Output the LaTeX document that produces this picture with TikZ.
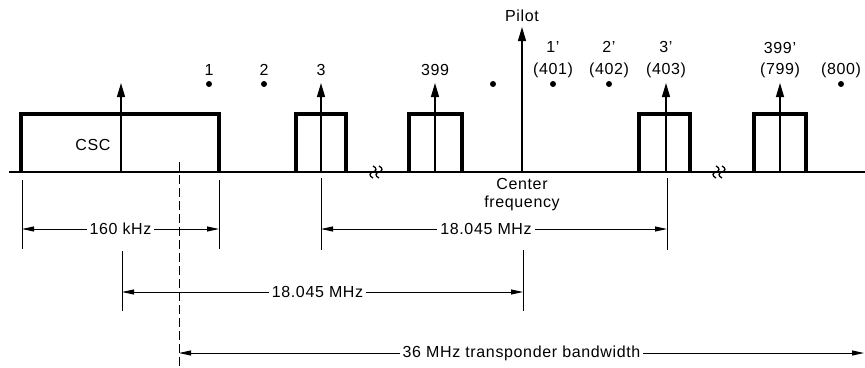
\documentclass[tikz,border=0pt]{standalone}
\usepackage{fontspec}
\setmainfont{Liberation Sans}[LetterSpace=4]
\usetikzlibrary{arrows.meta}
\begin{document}
\begin{tikzpicture}[x=1pt,y=-1pt,
  lbl/.style={font=\fontsize{16}{18}\selectfont, inner sep=0pt, anchor=center},
  sigbox/.style={line width=3.4pt, line join=miter},
  baseln/.style={line width=1.6pt},
  carrier/.style={line width=1.3pt, -{Triangle[length=14pt,width=8pt]}},
  extl/.style={line width=0.9pt},
  dimln/.style={line width=0.9pt, {Triangle[length=12pt,width=5pt]}-{Triangle[length=12pt,width=5pt]}},
  dimlbl/.style={lbl, fill=white, inner xsep=3pt, inner ysep=1pt},
  dot/.style={circle, fill=black, inner sep=0pt, minimum size=6pt}]
\useasboundingbox (0,0) rectangle (865,367);
% baseline
\coordinate (bl) at (9,172);
\coordinate (br) at (865,172);
\draw[baseln] (bl) -- (br);
% CSC box
\coordinate (c1) at (21,172); \coordinate (c2) at (21,114);
\coordinate (c3) at (219,114); \coordinate (c4) at (219,172);
\draw[sigbox] (c1) -- (c2) -- (c3) -- (c4);
\node[lbl] (csc) at (93,145) {CSC};
% signal boxes
\foreach \l/\r/\n in {296/346/b3, 409/462/b399, 639/690/b3p, 754/806/b399p}{
  \coordinate (\n a) at (\l,172); \coordinate (\n b) at (\l,114);
  \coordinate (\n c) at (\r,114); \coordinate (\n d) at (\r,172);
  \draw[sigbox] (\n a) -- (\n b) -- (\n c) -- (\n d);
}
% carriers
\foreach \x/\n in {121/k1, 321/k3, 435/k399, 666/k3p, 780/k399p}{
  \coordinate (\n s) at (\x,172); \coordinate (\n e) at (\x,83);
  \draw[carrier] (\n s) -- (\n e);
}
\coordinate (pils) at (522,172); \coordinate (pile) at (522,27);
\draw[carrier] (pils) -- (pile);
% break marks
\foreach \x in {373,379,716,722}{
  \draw[line width=1.3pt] (\x,166) .. controls (\x+4,168) and (\x+4,171) .. (\x,172)
    .. controls (\x-4,173) and (\x-4,176) .. (\x,178);
}
% labels
\node[lbl] (pilot) at (522,16) {Pilot};
\node[lbl] (n1) at (209,70) {1};
\node[lbl] (n2) at (264,70) {2};
\node[lbl] (n3) at (321,70) {3};
\node[lbl] (n399) at (435,70) {399};
\node[lbl] (p1) at (553,47) {1’};
\node[lbl] (q1) at (553,70) {(401)};
\node[lbl] (p2) at (609,47) {2’};
\node[lbl] (q2) at (609,70) {(402)};
\node[lbl] (p3) at (666,47) {3’};
\node[lbl] (q3) at (666,70) {(403)};
\node[lbl] (p399) at (780,48) {399’};
\node[lbl] (q399) at (780,70) {(799)};
\node[lbl] (q800) at (841,70) {(800)};
\foreach \x/\n in {209/d1, 264/d2, 493/d3, 553/d4, 609/d5, 841/d6}{
  \node[dot] (\n) at (\x,84) {};
}
\node[lbl] (cen) at (522,184) {Center};
\node[lbl] (freq) at (522,203) {frequency};
% dashed line
\coordinate (dsh1) at (179,162); \coordinate (dsh2) at (179,367);
\draw[extl, dash pattern=on 9pt off 4pt] (dsh1) -- (dsh2);
% extension lines
\foreach \x/\a/\b/\n in {22/180/249/e1, 219/180/249/e2, 321/178/250/e3, 667/178/250/e4, 122/251/311/e5, 523/250/311/e6}{
  \coordinate (\n t) at (\x,\a); \coordinate (\n b) at (\x,\b);
  \draw[extl] (\n t) -- (\n b);
}
% dimension lines
\coordinate (r1a) at (22,229); \coordinate (r1b) at (219,229);
\draw[dimln] (r1a) -- (r1b) node[dimlbl, midway] (d160) {160 kHz};
\coordinate (r2a) at (321,229); \coordinate (r2b) at (667,229);
\draw[dimln] (r2a) -- (r2b) node[dimlbl, midway, xshift=-8pt] (d18a) {18.045 MHz};
\coordinate (r3a) at (122,292); \coordinate (r3b) at (523,292);
\draw[dimln] (r3a) -- (r3b) node[dimlbl, midway, xshift=-5pt] (d18b) {18.045 MHz};
\coordinate (r4a) at (179,353); \coordinate (r4b) at (864,353);
\draw[dimln] (r4a) -- (r4b) node[dimlbl, midway] (d36) {36 MHz transponder bandwidth};
\end{tikzpicture}
\end{document}
